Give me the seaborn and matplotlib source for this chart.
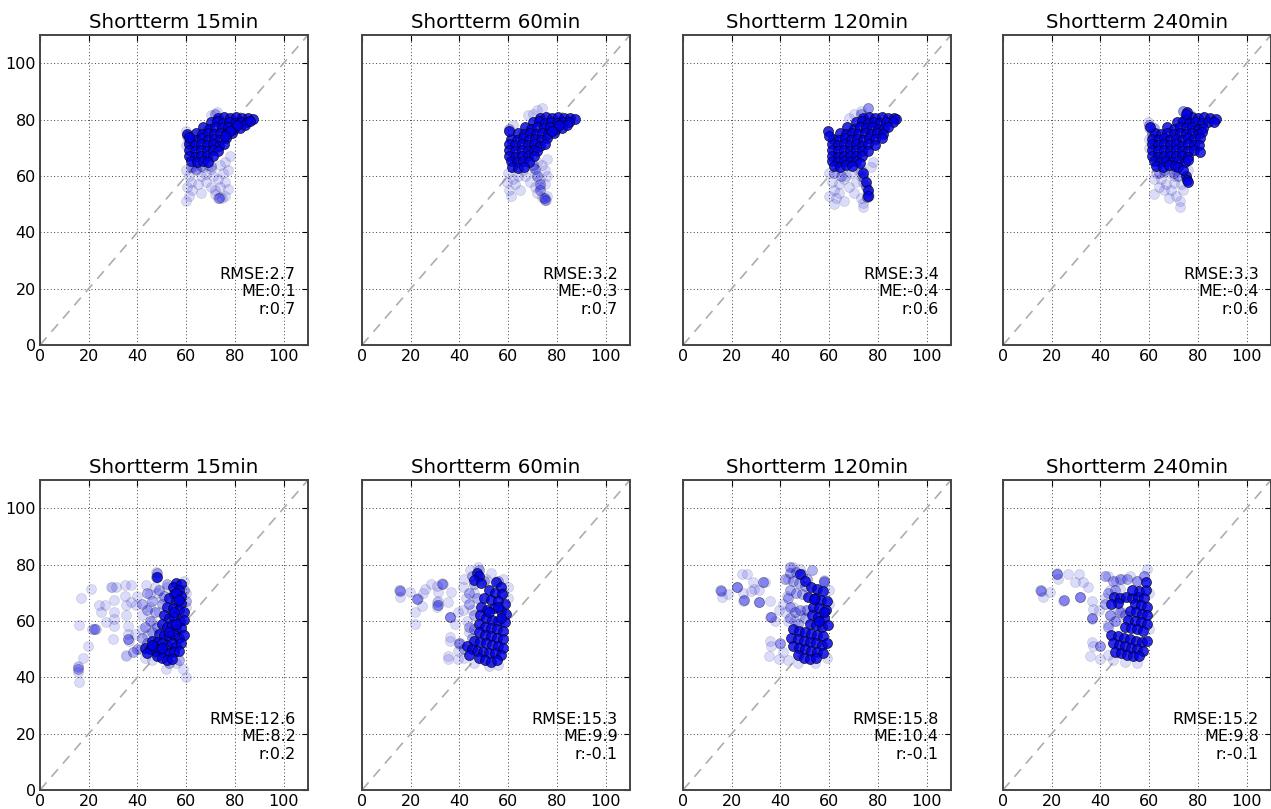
import matplotlib
matplotlib.use("Agg")
import matplotlib.pyplot as plt
import seaborn as sns
import pandas as pd

# ---------------- data ----------------
titles = ["Shortterm 15min", "Shortterm 60min", "Shortterm 120min", "Shortterm 240min"]
rmse = [2.7, 3.2, 3.4, 3.3, 12.6, 15.3, 15.8, 15.2]
me = [0.1, -0.3, -0.4, -0.4, 8.2, 9.9, 10.4, 9.8]
corr = [0.7, 0.7, 0.6, 0.6, 0.2, -0.1, -0.1, -0.1]
ticks = [0, 20, 40, 60, 80, 100]

top15_core = [(73,80.6),(75.5,80.8),(78,80.4),(80.5,80.9),(83,80.5),(85.5,80.7),(87.5,80.3),
    (70,79.0),(72.5,79.4),(75,78.7),(77.5,79.2),(80,78.8),(82.5,79.3),(85,79.0),
    (67,77.2),(69.5,76.8),(72,77.4),(74.5,76.9),(77,77.3),(79.5,76.8),(82,77.1),
    (64,75.3),(66.5,74.8),(69,75.2),(71.5,74.7),(74,75.4),(76.5,74.9),(79,75.2),
    (61.5,73.2),(64,72.8),(66.5,73.3),(69,72.9),(71.5,73.1),(74,72.7),(76.5,73.3),
    (61,71.2),(63.5,70.8),(66,71.3),(68.5,70.9),(71,71.2),(73.5,70.7),(75.5,71.4),
    (61,69.2),(63.5,68.7),(66,69.1),(68.5,68.8),(71,69.3),(73,68.9),
    (61,67.1),(63.5,66.8),(66,67.2),(68.5,66.9),(71,67.0),
    (62,65.2),(64.5,64.8),(67,65.3),(69,65.0),
    (60.5,75.0),(61,73.8),(84,78),(86,79.5),(81,78),(78,76),(76,74)]
top15_mid = [(60.5,74),(61,72),(62,63),(64,62.5),(70,63.5),(73.5,52.2),(72,81.8),(66,63.5)]
top15_sparse = [(60,62),(61,60),(62,58),(60.5,56),(61,53),(60,51),(64,62),(66,60),(68,58),(70,56),
    (72,55),(74,56),(76,58),(75,61),(77,62),(70,62.5),(68,60.5),(65,57),(73,59),(71,60),(66,54),
    (62.5,55),(76,53),(74,52.5),(73,52),(74.5,52.3),(72,53.5),(77,55.5),(63,63),
    (70,81.5),(72.5,82.5),(60,76),(60,71),(76,65),(74,64),(78,67),(67,63),(69,64)]

top60_core = [(73,80.6),(75.5,80.8),(78,80.4),(80.5,80.9),(83,80.5),(85.5,80.7),(87.5,80.3),
    (70,79.0),(72.5,79.4),(75,78.7),(77.5,79.2),(80,78.8),(82.5,79.3),(85,79.0),
    (67,77.2),(69.5,76.8),(72,77.4),(74.5,76.9),(77,77.3),(79.5,76.8),(82,77.1),
    (64,75.3),(66.5,74.8),(69,75.2),(71.5,74.7),(74,75.4),(76.5,74.9),(79,75.2),
    (61,73.2),(63.5,72.8),(66,73.3),(68.5,72.9),(71,73.1),(73.5,72.7),(76,73.3),
    (60.5,71.2),(63,70.8),(65.5,71.3),(68,70.9),(70.5,71.2),(73,70.7),(75,71.4),
    (60.5,69.2),(63,68.7),(65.5,69.1),(68,68.8),(70.5,69.3),(72,68.9),
    (60.5,67.1),(63,66.8),(65.5,67.2),(68,66.9),(70.5,67.0),
    (61,65.2),(63.5,64.8),(66,65.3),(68.5,65.0),
    (61.5,63.2),(64,62.8),(66.5,63.3),
    (60.5,76),(84,78),(81,78),(78,76)]
top60_mid = [(74.5,52),(75,51.5),(72,60),(73,57),(70,64),(71,62.5),(60.5,76.5),(73,55)]
top60_sparse = [(60,61),(59.5,58),(60.5,55),(61,53),(63,57),(65,55),(67,60),(69,58),(71,56),(72,54),
    (74,52.5),(75,52),(75.5,51.5),(76,53),(73,59),(75,62),(70,63),(72,65),(74,64),(76,66),
    (70,82),(72,83.5),(74,84),(68,81.5),(76,60),(64,60),(66,62),(62,78),(71,61),(73,56),(75,57),(62,59)]

top120_core = [(74,80.6),(76.5,80.8),(79,80.4),(81.5,80.9),(84,80.5),(86.5,80.7),(87.5,80.2),
    (71,79.0),(73.5,79.4),(76,78.7),(78.5,79.2),(81,78.8),(83.5,79.3),(86,79.0),
    (67.5,77.2),(70,76.8),(72.5,77.4),(75,76.9),(77.5,77.3),(80,76.8),(82.5,77.1),(84,77.5),
    (64.5,75.3),(67,74.8),(69.5,75.2),(72,74.7),(74.5,75.4),(77,74.9),(79.5,75.2),(82,74.8),
    (61.5,73.2),(64,72.8),(66.5,73.3),(69,72.9),(71.5,73.1),(74,72.7),(76.5,73.3),(79,73.0),(81.5,73.4),
    (61,71.2),(63.5,70.8),(66,71.3),(68.5,70.9),(71,71.2),(73.5,70.7),(76,71.4),(79,71.0),
    (61,69.2),(63.5,68.7),(66,69.1),(68.5,68.8),(71,69.3),(73.5,68.9),(76,69.0),
    (61,67.1),(63.5,66.8),(66,67.2),(68.5,66.9),(71,67.0),(73.5,67.2),
    (61,65.2),(63.5,64.8),(66,65.3),(68.5,65.0),(71,65.2),(72.5,64.5),
    (62,63.5),(64.5,63.2),(67,63.8),(69.5,63.4),
    (59.5,76),(60,74),(74,61),(75,58),(76,55),(76,53)]
top120_mid = [(73,62),(74,59.5),(75,56.5),(76,54),(75.5,52.5),(76,84),(73,82),(62,61),(65,60)]
top120_sparse = [(60,61),(61,58),(62,55),(60,53),(64,57),(66,59),(68,56),(70,54),(63,52),(66,51),
    (69,61),(72,62),(73,60),(74,58),(75,56),(76.5,53),(75.5,52.5),(74,50.5),(74,49),(73,52),(71,58),
    (76,84),(73,83),(70,82),(68,80.5),(67,60),(65,62),(78,65),(77,63),(62,50),(64,54)]

top240_core = [(75,80.6),(77.5,80.8),(80,80.4),(82.5,80.9),(85,80.5),(87.5,80.3),
    (71.5,79.0),(74,79.4),(76.5,78.7),(79,79.2),(81.5,78.8),(84,79.3),(86.5,79.0),
    (67.5,77.2),(70,76.8),(72.5,77.4),(75,76.9),(77.5,77.3),(80,76.8),(82,77.1),
    (62.5,75.3),(65,74.8),(67.5,75.2),(70,74.7),(72.5,75.4),(75,74.9),(77.5,75.2),(80,74.8),(81.5,75.5),
    (61,73.2),(63.5,72.8),(66,73.3),(68.5,72.9),(71,73.1),(73.5,72.7),(76,73.3),(78.5,73.0),(81,73.4),
    (61,71.2),(63.5,70.8),(66,71.3),(68.5,70.9),(71,71.2),(73.5,70.7),(76,71.4),(78.5,71.0),(80.5,70.8),
    (61,69.2),(63.5,68.7),(66,69.1),(68.5,68.8),(71,69.3),(73.5,68.9),(76,69.0),(78.5,69.3),(81,68.5),
    (61,67.1),(63.5,66.8),(66,67.2),(68.5,66.9),(71,67.0),(73.5,67.2),(76,66.8),
    (62,65.2),(64.5,64.8),(67,65.3),(69.5,65.0),(72,65.2),(74.5,64.8),(76,65.5),
    (63,63.5),(65.5,63.2),(68,63.8),(70.5,63.4),(72,63.2),
    (75,60),(74,62),(75.5,58.5),(76,58),(75.5,82.5),(75,82),(60.5,77.5)]
top240_mid = [(60,78),(61,75),(64,61),(66,62),(70,61),(72,60),(62,77),(74,83)]
top240_sparse = [(59.5,79),(60,77),(61,75.5),(60,73),(60,70),(63,61),(65,59),(67,57),(69,55),(71,53),
    (72.5,51),(72.5,49),(62,53.5),(64,56),(66,61.5),(70,60),(73,57),(71,62),(74,55),(74,83),(77,81.5),
    (62,59),(68,52),(76,62),(66,55),(70,57.5),(68,61)]

bot15_core = [(56,73.5),(58,73),(54.5,72),(57,71),(55,69.5),(58,69),(53,68),(56,67),(58,66.5),(52,65),
    (54.5,64.5),(57,64),(59,63),(51,62),(53,61),(55,61.5),(57.5,60),(59,60.5),(50,59),(52,58),(54,58.5),
    (56,57),(58,57.5),(49,55.5),(51,55),(53,54.5),(55,55),(57,54),(59,55),(46,53),(48,52.5),(50,52),
    (52,51.5),(54,52),(56,51),(58,52),(43,50.5),(45,50),(47,49.5),(49,50),(51,49),(53,48.5),(55,49),
    (57,49.5),(44,48.5),(48,47.5),(50,47),(52,46),(54,46.5),(48,75.5),(56,70),(57,67.5),(55,63),(56,59),
    (53,56),(50,50.5),(46,51.5)]
bot15_mid = [(44,70),(46,67),(44,64),(47,63),(45,60),(48,58),(46,56),(42,54),(44,52),(40,50),(38,49),
    (36,53.5),(22,57),(15.5,43),(47.5,75.5),(48,77),(49,71),(50,66),(42,66),(43,58),(57,46),(53,45),
    (51,69),(52,73),(59,71),(60,67)]
bot15_sparse = [(47.5,77.3),(16.8,68.2),(21,71.4),(16.2,58.7),(21.5,57),(22.5,57.2),(23,57),(19.6,51.2),
    (17.8,47),(15.8,43.5),(15.5,44),(15.8,42),(16,38.5),(29.2,72),(29.5,72),(31.2,72),(34.7,72.6),
    (37.4,72.6),(24.4,65.7),(25,63),(26.8,65.7),(30.5,67.3),(30.5,63),(30.5,60.7),(30.5,58.3),(29.9,53.6),
    (34.7,69),(35.3,65.5),(35.3,62),(36,58.3),(36,55.4),(36,53.6),(36.5,53),(35.3,47.6),(35.5,47.8),
    (39.5,65.5),(40,69),(42,62),(42,57),(43.6,72.6),(45,69.6),(37.4,66.7),(27,59.5),(38.8,55.4),(60,40),
    (58.6,43),(51.8,43),(45,65),(47,72),(48,70),(46,60),(44,55),(47,57.5),(49,63),(50,68),(52,72),
    (59,74),(60,70),(60,65),(41,50),(43,47),(46,46),(56,45)]

bot60_core = [(55,73.7),(57,72),(52,71),(54.5,70),(57.5,69.5),(50,68),(53,67.5),(56,67),(58.5,66),(49,65),
    (51.5,64),(54,64.5),(57,63.5),(59,62.5),(48.5,62),(51,61),(53.5,60.5),(56,60),(58.5,59.5),(48,59),
    (50.5,58),(53,57.5),(55.5,57),(58,56.5),(48,56),(50.5,55),(53,54.5),(55.5,54),(58,53.5),(46,53),
    (48.5,52.5),(51,52),(53.5,51.5),(56,51),(58,50.5),(43,51),(45,50),(47,49.5),(49.5,49),(52,48.5),
    (54.5,48.5),(57,48),(44,48),(48,47),(50.5,46),(53,45.5),(55.5,46),(47,77),(48,76),(46,74.5),
    (49,73.5),(56,65),(57,61),(52,63)]
bot60_mid = [(15.5,70.5),(31,65.5),(36,61.5),(40,52),(46,73),(45,76),(48,78),(50,74),(44,70),(44,66),
    (46,62),(44,58),(45,54),(42,50),(56,74),(58,70),(22.5,67.8),(33,73),(47,68),(46,57)]
bot60_sparse = [(15,70.8),(15.5,71),(15.7,68.4),(19.7,70.2),(22.4,67.8),(22.8,68),(24.5,65.4),(21.8,63),
    (21.8,59),(25,70),(28.5,73),(33.3,73.1),(33,73.3),(31.3,70.2),(31.3,67.2),(30.6,66.6),(30.6,64.8),
    (30.8,65.5),(35.3,66.6),(36.7,70.2),(36,61.3),(36.2,61.5),(39.4,63),(38,58.9),(36,54.2),(36,53),
    (35.3,47.7),(35.5,46.5),(39.4,46.5),(39.4,49.5),(40,51.8),(40.2,52),(41.4,72),(42.8,68),(41.4,64),
    (30.6,72.5),(26,71.5),(43,60),(44,56),(45,64),(46,70),(51,75),(53,77),(58,75),(42,75),(44.5,78),
    (47.5,79),(60,72),(60,68),(42,47),(46,45),(52,44),(56,44.5)]

bot120_core = [(52.5,72),(55,71.5),(57.5,70.5),(51.5,68.5),(54,68),(56.5,67.5),(59,67),(53.5,65),(56,64.5),
    (58.5,64),(53,62),(55.5,61.5),(58,61),(52,59),(54.5,58.5),(57,58),(59.5,58.5),(45,57),(47.5,56.5),
    (50,56),(52.5,55.5),(55,55),(57.5,54.5),(44.5,54),(47,53.5),(49.5,53),(52,52.5),(54.5,52),(57,51.5),
    (59,52),(45,51),(47.5,50.5),(50,50),(52.5,49.5),(55,49),(57.5,48.5),(47,48),(49.5,47),(52,46.5),
    (54.5,47),(53.6,67.8),(58,63),(56,60),(48,76.5),(50,74)]
bot120_mid = [(15.5,70.5),(22,72),(25,67.3),(31,66.7),(33,73.8),(36,61.5),(40,52),(43,68),(44,65),
    (46,63),(48,64),(44,61),(47,59),(50,61),(51,64),(42,75),(44,79),(58,74),(53,78),
    (44,77),(46.5,77.5),(49,76.5),(51,75),(45,74),(47.5,73.5),(50,72.5),(44,71),(46.5,70),(49,69.5),
    (57.7,73.7)]
bot120_sparse = [(15.2,70.8),(15.5,71),(15.9,68.4),(22,72),(22.3,72.2),(18.6,69.6),(24.1,76.7),(26.2,76.7),
    (28.9,73.7),(33.7,73.7),(33,73.9),(24.8,70),(28,70.5),(31,71),(24.8,67.2),(25,67.4),(31,66.6),
    (31.2,66.8),(35.8,67.2),(35.8,61.3),(36,61.5),(39.2,63.7),(37.8,60.1),(35.8,53),(36.1,51.2),
    (35.1,47.7),(39.2,46.5),(39.9,51.8),(41,66),(42,63),(43,60),(45,65),(48,62),(50,64),(46,60),
    (42.5,69),(43,75),(45,79),(48,78.5),(58,74.5),(60,71),(60,66),(41,49),(43,46),(47,45),(54,45),
    (59,47),(29,71.5)]

bot240_core = [(45.5,68.5),(48,68),(50.5,68.5),(53,68),(55.5,68.5),(58,68),(56,70.5),(58.5,71),(53,71),
    (54,66),(56.5,65.5),(59,65),(52,63.5),(54.5,63),(57,62.5),(59,62),(51.5,60.5),(54,60),(56.5,59.5),
    (59,59),(50,58),(52.5,57.5),(55,57),(57.5,56.5),(44.5,55),(47,54.5),(49.5,54),(52,53.5),(54.5,53),
    (57,52.5),(59,53),(45,52),(47.5,51.5),(50,51),(52.5,50.5),(55,50),(57.5,49.5),(46,49),(48.5,48.5),
    (51,48),(53.5,47.5),(56,47.5),(58.8,73.7),(47,66.5),(44.5,66)]
bot240_mid = [(22.3,76.5),(15.5,70.5),(25,67.3),(31.7,68.5),(36.5,61),(40,51),(42,76),(45,74),(48,75),
    (51,75),(55,74),(58,76),(44,62),(46,60),(48,63),(43,58),(50,62),(42,66),(43,70),(46,71)]
bot240_sparse = [(22,76.7),(22.3,76.9),(22.7,75),(26.8,76.7),(31,76.7),(15.2,70.8),(15.5,71),(16.6,68.4),
    (19.3,70.2),(24.8,67.2),(25,67.4),(29.6,73.7),(33,73.7),(35,72),(31.6,68.4),(31.8,68.6),(36.4,67.2),
    (37.1,64.3),(36.4,60.7),(36.6,61),(39.2,63.7),(36.4,52.4),(37.1,51.2),(35.8,47.7),(40,46.5),
    (40,51.2),(59,78.5),(57.7,76),(43,76),(46.4,74.3),(49,75),(52,76),(55,74),(44,62),(46.5,60),
    (49,63),(47,64),(43,59),(44,71),(48,71.5),(42,68),(60,70),(60,57),(43,48),(45,46),(50,45.5),(55,45)]

cores = [top15_core, top60_core, top120_core, top240_core, bot15_core, bot60_core, bot120_core, bot240_core]
mids = [top15_mid, top60_mid, top120_mid, top240_mid, bot15_mid, bot60_mid, bot120_mid, bot240_mid]
sparses = [top15_sparse, top60_sparse, top120_sparse, top240_sparse,
           bot15_sparse, bot60_sparse, bot120_sparse, bot240_sparse]

# ---------------- style ----------------
sns.set_style("white")
plt.rcParams["font.family"] = ["DejaVu Sans"]
plt.rcParams["text.color"] = "black"

W, H = 1271, 809
fig = plt.figure(figsize=(W / 100, H / 100), dpi=100)

lefts_px = [40, 362, 683, 1003]
bottoms_px = [345, 790]
aw, ah = 268, 310

for i in range(8):
    row, col = divmod(i, 4)
    ax = fig.add_axes([lefts_px[col] / W, 1 - bottoms_px[row] / H, aw / W, ah / H])
    ax.set_axisbelow(True)
    ax.grid(True, linestyle=(0, (1, 2.5)), color="0.25", linewidth=0.7)
    ax.plot([0, 110], [0, 110], color="0.68", linewidth=1.2, dashes=(6, 4.5), zorder=1)

    layers = [(sparses[i], 0.14), (mids[i], 0.3), (cores[i], 0.82)]
    for k, (pts, a) in enumerate(layers):
        df = pd.DataFrame(pts, columns=["obs", "pred"])
        sns.scatterplot(data=df, x="obs", y="pred", ax=ax, color="#0000e6", alpha=a,
                        s=52, edgecolor="black", linewidth=0.5, zorder=2 + k)

    ax.set_xlim(0, 110)
    ax.set_ylim(0, 110)
    ax.set_xticks(ticks)
    ax.set_yticks(ticks)
    ax.set_xlabel("")
    ax.set_ylabel("")
    ax.tick_params(direction="in", length=4, width=0.8, top=True, right=True,
                   labelsize=11.5, pad=3, colors="black")
    if col != 0:
        ax.set_yticklabels([])
    for s in ax.spines.values():
        s.set_visible(True)
        s.set_color("#444444")
        s.set_linewidth(1.4)
    ax.set_title(titles[col], fontsize=14.3, pad=5, color="black")
    ax.text(105, 10, f"RMSE:{rmse[i]}\nME:{me[i]}\nr:{corr[i]}", ha="right", va="bottom",
            fontsize=11.5, linespacing=1.2, color="black")

fig.savefig("out.png", dpi=100)
